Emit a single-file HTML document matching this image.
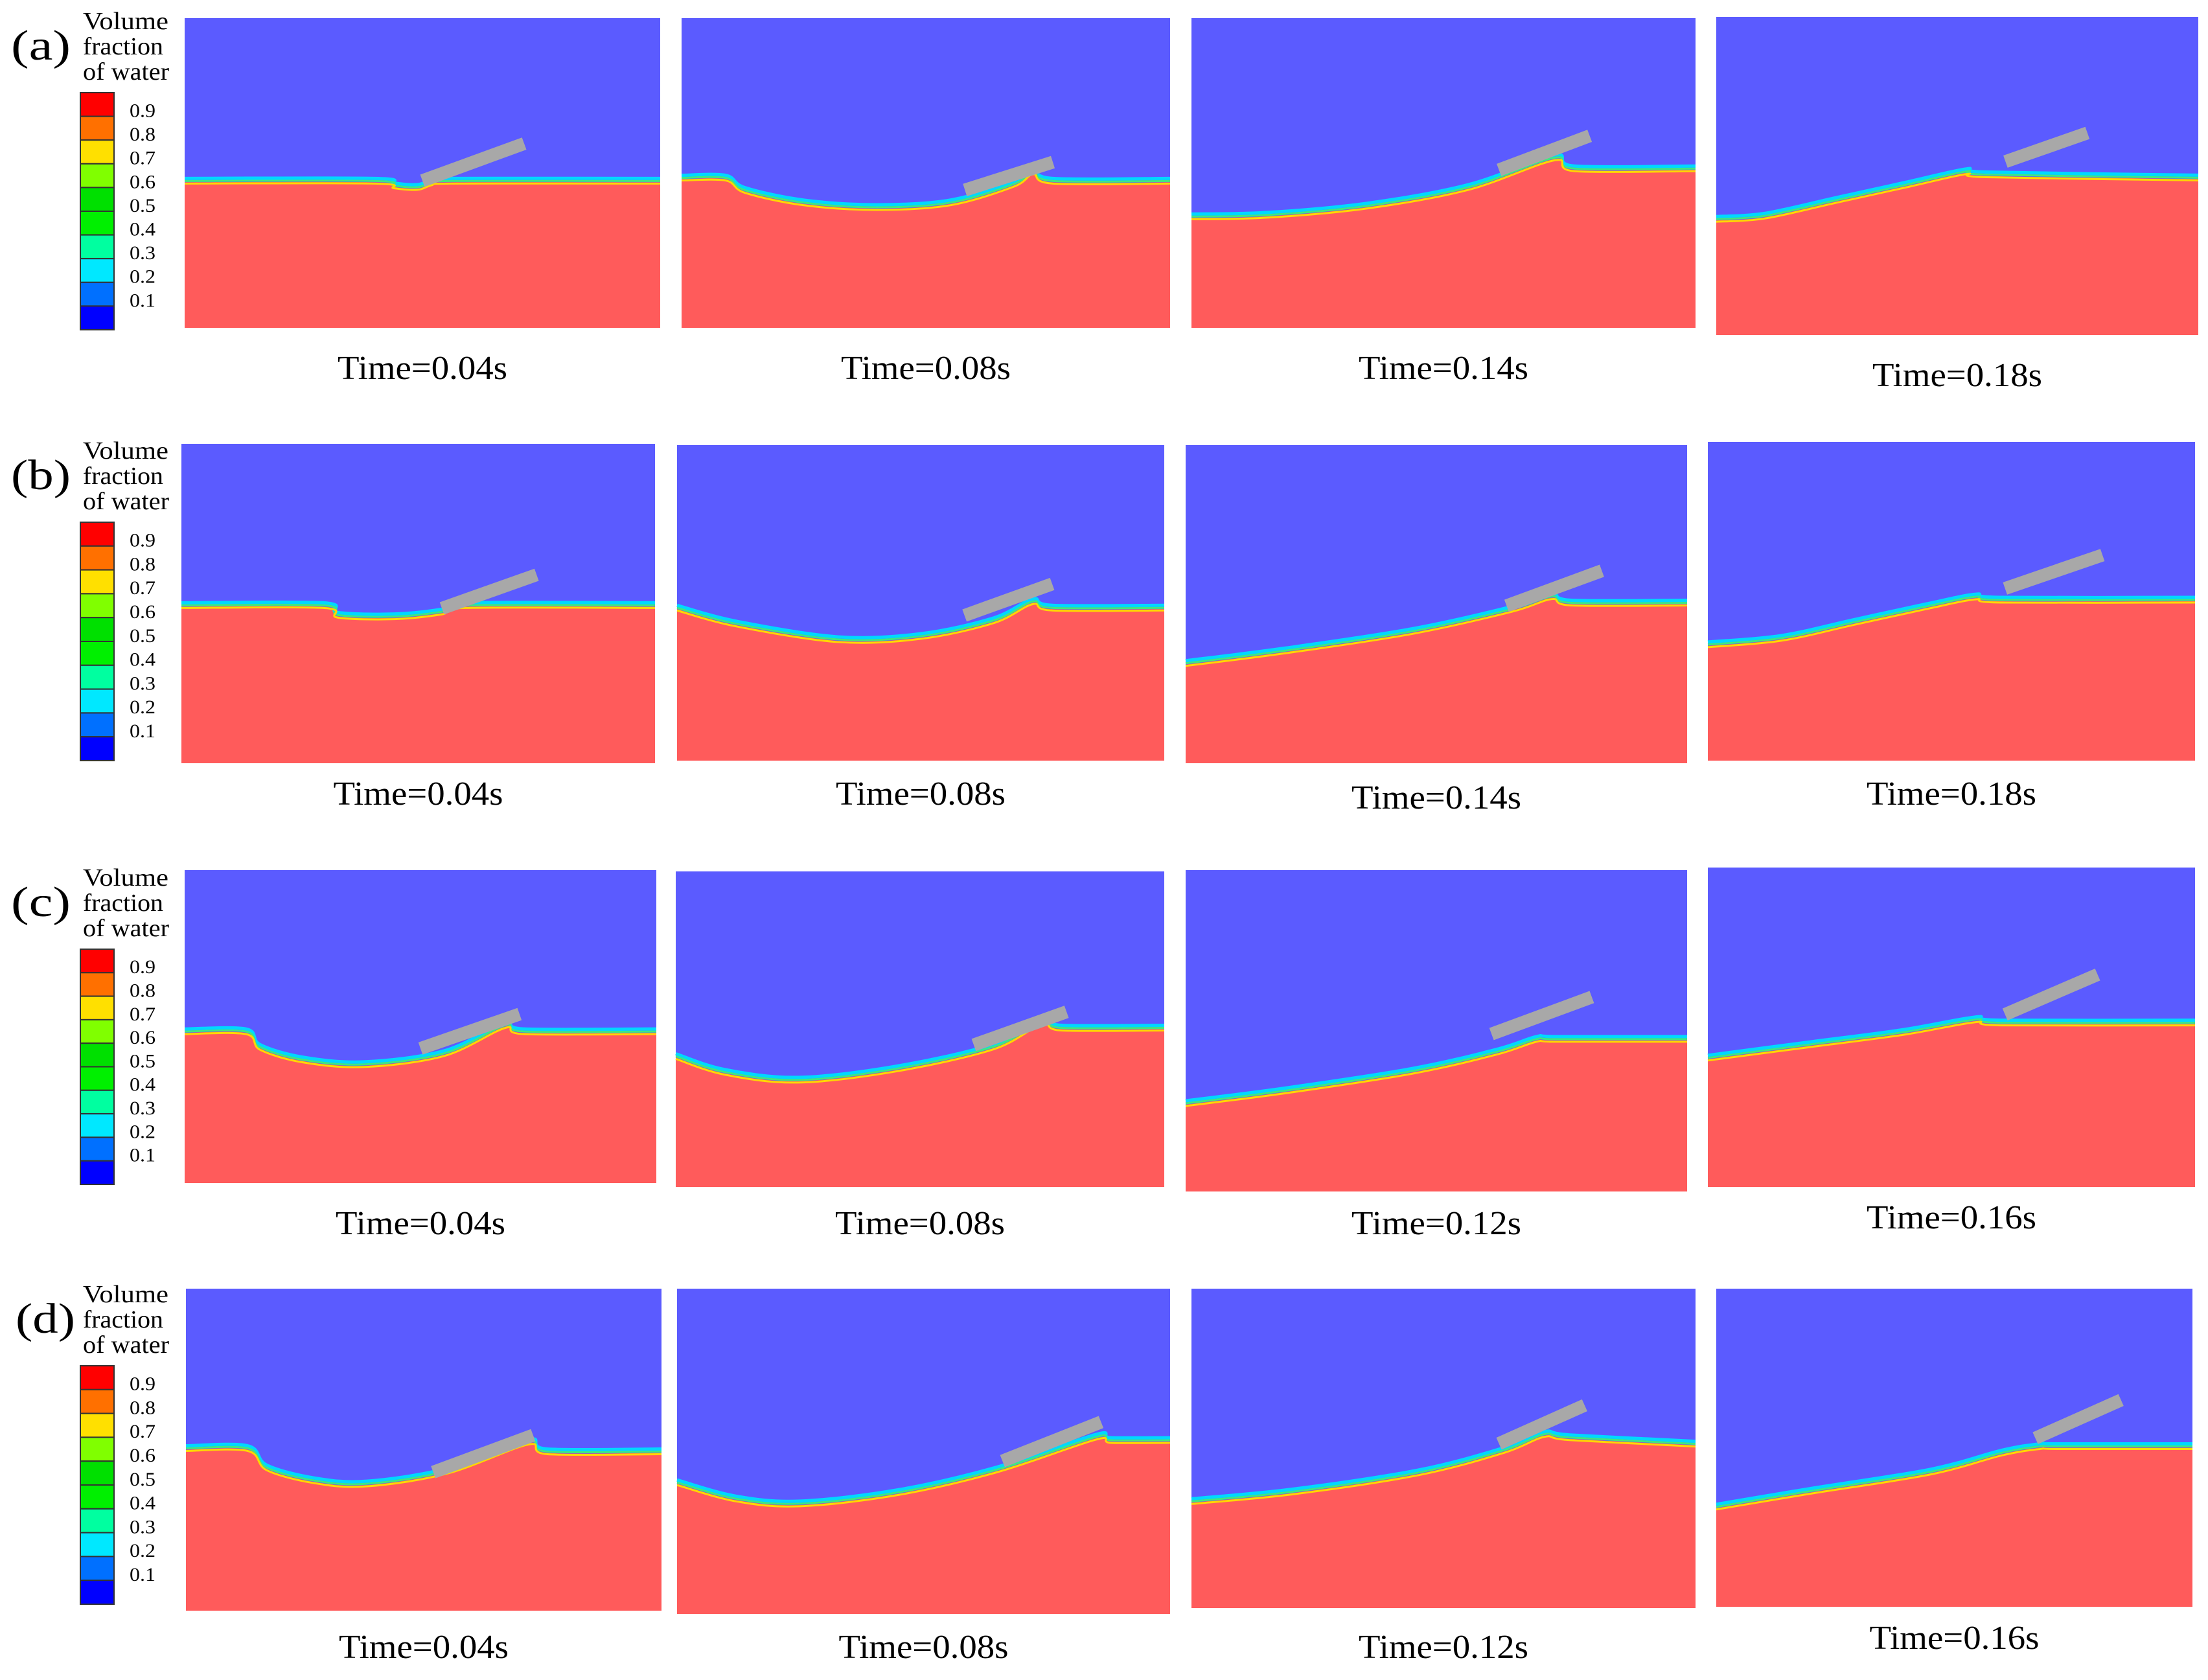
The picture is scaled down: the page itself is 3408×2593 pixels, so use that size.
<!DOCTYPE html>
<html><head><meta charset="utf-8">
<style>
html,body{margin:0;padding:0;background:#fff;}
svg{display:block;font-family:"Liberation Serif",serif;}
</style></head>
<body>
<svg id="fig" width="3408" height="2593" viewBox="0 0 3408 2593" xmlns="http://www.w3.org/2000/svg"></svg>
<script>
const rowLabels = ["(a)","(b)","(c)","(d)"];
const rowTimes = [["Time=0.04s","Time=0.08s","Time=0.14s","Time=0.18s"],
                  ["Time=0.04s","Time=0.08s","Time=0.14s","Time=0.18s"],
                  ["Time=0.04s","Time=0.08s","Time=0.12s","Time=0.16s"],
                  ["Time=0.04s","Time=0.08s","Time=0.12s","Time=0.16s"]];
const colorbarTicks = ["0.9","0.8","0.7","0.6","0.5","0.4","0.3","0.2","0.1"];
const colorbarColors = ["#ff0000","#ff7000","#ffe000","#80ff00","#00e000","#00f000","#00ffa0","#00e8ff","#0070ff","#0000ff"];
const surfaces = [
 [[0,.53],[.4,.53],[.44,.545],[.49,.55],[.52,.535],[.56,.53],[1,.53]],
 [[0,.52],[.09,.52],[.13,.56],[.25,.6],[.4,.615],[.55,.6],[.68,.54],[.72,.5],[.76,.53],[1,.53]],
 [[0,.645],[.15,.64],[.35,.61],[.55,.55],[.72,.455],[.76,.49],[1,.49]],
 [[0,.64],[.1,.63],[.25,.58],[.4,.53],[.52,.49],[.56,.5],[1,.51]],
 [[0,.51],[.3,.51],[.33,.54],[.45,.545],[.55,.53],[.6,.51],[1,.51]],
 [[0,.52],[.12,.57],[.33,.62],[.5,.61],[.65,.56],[.73,.5],[.77,.52],[1,.52]],
 [[0,.69],[.2,.65],[.45,.59],[.65,.52],[.73,.48],[.77,.5],[1,.5]],
 [[0,.64],[.15,.62],[.3,.57],[.45,.52],[.55,.49],[.6,.5],[1,.5]],
 [[0,.52],[.13,.52],[.16,.57],[.25,.61],[.38,.625],[.55,.59],[.68,.5],[.72,.52],[1,.52]],
 [[0,.59],[.1,.64],[.25,.665],[.45,.63],[.65,.56],[.75,.48],[.79,.5],[1,.5]],
 [[0,.73],[.2,.69],[.45,.63],[.62,.57],[.7,.53],[.74,.53],[1,.53]],
 [[0,.6],[.2,.56],[.4,.52],[.55,.48],[.6,.49],[1,.49]],
 [[0,.5],[.13,.5],[.17,.56],[.27,.6],[.38,.61],[.55,.57],[.72,.48],[.76,.51],[1,.51]],
 [[0,.6],[.12,.65],[.25,.665],[.45,.63],[.65,.56],[.85,.46],[.88,.47],[1,.47]],
 [[0,.67],[.2,.64],[.45,.58],[.62,.51],[.7,.46],[.75,.47],[1,.49]],
 [[0,.69],[.2,.64],[.45,.58],[.6,.52],[.68,.5],[.72,.5],[1,.5]]
];
const plates = [
 [.5,.525,.714,.405],[.58,.555,.76,.465],[.61,.49,.79,.38],[.6,.455,.77,.365],
 [.55,.515,.75,.41],[.59,.54,.77,.44],[.64,.505,.83,.395],[.61,.46,.81,.355],
 [.5,.57,.71,.46],[.61,.55,.8,.445],[.61,.51,.81,.395],[.61,.46,.8,.335],
 [.52,.57,.73,.455],[.66,.53,.86,.41],[.61,.485,.78,.365],[.67,.47,.85,.35]
];
const boxes = [
 [285,28,1019,506],[1052,28,1806,506],[1839,28,2617,506],[2649,26,3393,517],
 [280,685,1011,1178],[1045,687,1797,1174],[1830,687,2604,1178],[2636,682,3388,1174],
 [285,1343,1013,1826],[1043,1345,1797,1832],[1830,1343,2604,1839],[2636,1339,3388,1832],
 [287,1989,1021,2486],[1045,1989,1806,2491],[1839,1989,2617,2482],[2649,1989,3384,2480]
];
const labelY = [[567,567,567,578],[1224,1224,1230,1224],[1887,1887,1887,1878],[2541,2541,2541,2527]];
const cbTops=[143,806,1465,2108], cbBottoms=[509,1174,1828,2476];
const titleY=[[45,84,123],[708,747,786],[1367,1406,1445],[2010,2049,2088]];
const svg=document.getElementById('fig');
const NS="http://www.w3.org/2000/svg";
function mk(tag,attrs,parent){const e=document.createElementNS(NS,tag);for(const k in attrs)e.setAttribute(k,attrs[k]);(parent||svg).appendChild(e);return e;}
function pathFor(pts,b,dy){
  const W=b[2]-b[0],H=b[3]-b[1];
  const P=pts.map(p=>[b[0]+p[0]*W,b[1]+p[1]*H+dy]);
  let d="M"+P[0][0]+","+P[0][1];
  for(let i=0;i<P.length-1;i++){
    const p0=P[Math.max(i-1,0)],p1=P[i],p2=P[i+1],p3=P[Math.min(i+2,P.length-1)];
    const c1=[p1[0]+(p2[0]-p0[0])/6,p1[1]+(p2[1]-p0[1])/6];
    const c2=[p2[0]-(p3[0]-p1[0])/6,p2[1]-(p3[1]-p1[1])/6];
    d+=" C"+c1[0]+","+c1[1]+" "+c2[0]+","+c2[1]+" "+p2[0]+","+p2[1];
  }
  return d;
}
for(let r=0;r<4;r++){
  const rl=mk('text',{x:r==3?24:17,y:titleY[r][1]+8,'font-size':66,textLength:92,lengthAdjust:'spacingAndGlyphs'},svg);rl.textContent=rowLabels[r];
  
  
  const tl=[132,124,133];
  ["Volume","fraction","of water"].forEach((t,i)=>{const e=mk('text',{x:128,y:titleY[r][i],'font-size':38,textLength:tl[i],lengthAdjust:'spacingAndGlyphs'});e.textContent=t;
    
    });
  const top=cbTops[r],h=(cbBottoms[r]-top)/10;
  const g=mk('g',{});
  
  
  colorbarColors.forEach((c,i)=>{mk('rect',{x:124,y:top+i*h,width:52,height:h,fill:c,stroke:'#333','stroke-width':2},g);});
  colorbarTicks.forEach((t,i)=>{const e=mk('text',{x:200,y:top+(i+0.75)*h+10,'font-size':30,textLength:40,lengthAdjust:'spacingAndGlyphs'},g);e.textContent=t;
    
    });
  for(let c=0;c<4;c++){
    const k=r*4+c,b=boxes[k];
    const pg=mk('g',{});
    
    
    mk('rect',{x:b[0],y:b[1],width:b[2]-b[0],height:b[3]-b[1],fill:'#5b5bff'},pg);
    const d=pathFor(surfaces[k],b,0);
    mk('path',{d:d+" L"+b[2]+","+b[3]+" L"+b[0]+","+b[3]+" Z",fill:'#ff5b5b'},pg);
    mk('path',{d:pathFor(surfaces[k],b,-6),fill:'none',stroke:'#00d8ff','stroke-width':5},pg);
    mk('path',{d:pathFor(surfaces[k],b,-2),fill:'none',stroke:'#40e880','stroke-width':3},pg);
    mk('path',{d:pathFor(surfaces[k],b,2),fill:'none',stroke:'#ffd800','stroke-width':3},pg);
    const p=plates[k],W=b[2]-b[0],H=b[3]-b[1];
    const pl=mk('line',{x1:b[0]+p[0]*W,y1:b[1]+p[1]*H,x2:b[0]+p[2]*W,y2:b[1]+p[3]*H,stroke:'#a8a8a8','stroke-width':20},pg);
    
    
    const lt=mk('text',{x:(b[0]+b[2])/2,y:labelY[r][c]+18,'font-size':52,'text-anchor':'middle',textLength:262,lengthAdjust:'spacingAndGlyphs'},svg);
    lt.textContent=rowTimes[r][c];
    
    
  }
}
</script>
</body></html>
